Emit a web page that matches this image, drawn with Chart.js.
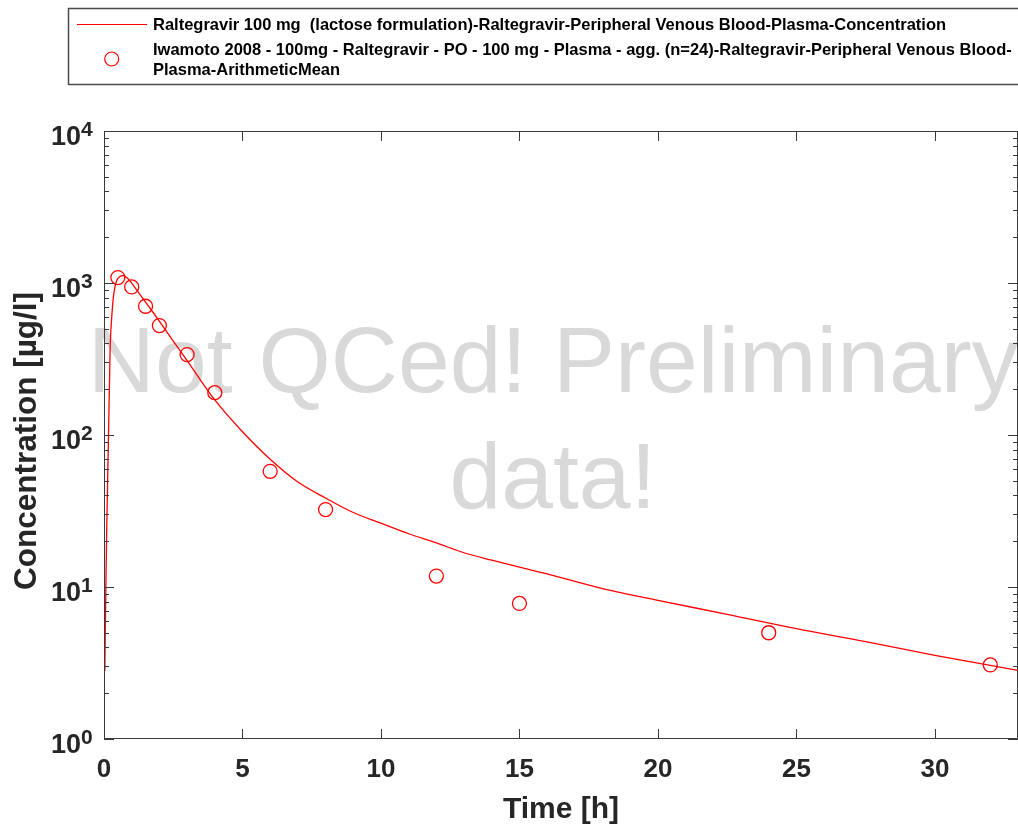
<!DOCTYPE html>
<html>
<head>
<meta charset="utf-8">
<script src="https://cdn.jsdelivr.net/npm/chart.js@4"></script>
<style>
html,body{margin:0;padding:0;background:#fff;}
#wrap{position:relative;width:1018px;height:830px;}
</style>
</head>
<body>
<div id="wrap"><canvas id="c"></canvas></div>
<script>
// ---- data ----
const simTime = [0.03,0.06,0.1,0.16,0.22,0.28,0.34,0.4,0.46,0.55,0.7,0.85,1.06,1.3,1.54,1.8,2.02,2.5,3,4,5,6,7,8,9,10,11,12,13,14,15,16,18,20,22.5,25,27.5,30,33];
const simConc = [2.8,8,25,92,360,600,810,950,1040,1095,1120,1075,966,840,732,630,553,415,309,170,105,69.2,49.0,38.5,30.9,26.3,22.4,19.5,16.8,15.0,13.5,12.2,9.77,8.17,6.61,5.32,4.37,3.55,2.83];
const obsTime = [0.5,1,1.5,2,3,4,6,8,12,15,24,32];
const obsConc = [1085,942,703,525,338,190,57.7,32.3,11.8,7.8,5.0,3.07];
const xTicks = [0,5,10,15,20,25,30];
const yDecades = [1,10,100,1000,10000];
const simLabel = 'Raltegravir 100 mg  (lactose formulation)-Raltegravir-Peripheral Venous Blood-Plasma-Concentration';
const obsLabel1 = 'Iwamoto 2008 - 100mg - Raltegravir - PO - 100 mg - Plasma - agg. (n=24)-Raltegravir-Peripheral Venous Blood-';
const obsLabel2 = 'Plasma-ArithmeticMean';
const xTitle = 'Time [h]';
const yTitle = 'Concentration [µg/l]';
const watermark = ['Not QCed! Preliminary','data!'];

const FONT = '"Liberation Sans", Arial, sans-serif';
const AX = '#262626';

const deco = {
  id:'deco',
  beforeDatasetsDraw(chart){
    const ctx = chart.ctx, a = chart.chartArea;
    const cx = (a.left+a.right)/2;
    ctx.save();
    ctx.fillStyle = '#d9d9d9';
    ctx.font = '93px ' + FONT;
    ctx.textAlign = 'center';
    ctx.textBaseline = 'alphabetic';
    ctx.fillText(watermark[0], cx-8, a.top+261);
    ctx.fillText(watermark[1], cx-8, a.top+377);
    ctx.restore();
  },
  afterDraw(chart){
    const ctx = chart.ctx, a = chart.chartArea;
    const xs = chart.scales.x, ys = chart.scales.y;
    ctx.save();
    // frame
    ctx.strokeStyle = '#3a3a3a';
    ctx.lineWidth = 1;
    ctx.beginPath();
    ctx.moveTo(a.left+0.5, a.top+0.5);
    ctx.lineTo(a.right-0.5, a.top+0.5);
    ctx.lineTo(a.right-0.5, a.bottom-0.5);
    ctx.lineTo(a.left+0.5, a.bottom-0.5);
    ctx.closePath();
    ctx.stroke();
    // y ticks
    ctx.beginPath();
    for (let i=0;i<yDecades.length;i++){
      const d = yDecades[i];
      const y = Math.round(ys.getPixelForValue(d))+0.5;
      ctx.moveTo(a.left, y); ctx.lineTo(a.left+10, y);
      ctx.moveTo(a.right, y); ctx.lineTo(a.right-10, y);
      if (i < yDecades.length-1){
        for (let m=2;m<=9;m++){
          const ym = Math.round(ys.getPixelForValue(d*m))+0.5;
          ctx.moveTo(a.left, ym); ctx.lineTo(a.left+5, ym);
          ctx.moveTo(a.right, ym); ctx.lineTo(a.right-5, ym);
        }
      }
    }
    // x ticks
    xTicks.forEach(v=>{
      const x = Math.round(xs.getPixelForValue(v))+0.5;
      ctx.moveTo(x, a.bottom); ctx.lineTo(x, a.bottom-10);
      ctx.moveTo(x, a.top); ctx.lineTo(x, a.top+10);
    });
    ctx.stroke();

    // x tick labels
    ctx.fillStyle = AX;
    ctx.font = 'bold 26px ' + FONT;
    ctx.textAlign = 'center';
    ctx.textBaseline = 'alphabetic';
    xTicks.forEach(v=>{
      ctx.fillText(String(v), xs.getPixelForValue(v), a.bottom+38);
    });
    // y tick labels 10^n
    yDecades.forEach(d=>{
      const y = ys.getPixelForValue(d);
      const e = String(Math.round(Math.log10(d)));
      ctx.textAlign = 'right';
      ctx.font = 'bold 27px ' + FONT;
      ctx.fillText('10', 81, y+14);
      ctx.textAlign = 'left';
      ctx.font = 'bold 21px ' + FONT;
      ctx.fillText(e, 81, y+5);
    });
    // titles
    ctx.textAlign = 'center';
    ctx.font = 'bold 30px ' + FONT;
    ctx.fillText(xTitle, (a.left+a.right)/2, 818);
    ctx.save();
    ctx.translate(36, 441);
    ctx.rotate(-Math.PI/2);
    ctx.font = 'bold 31.5px ' + FONT;
    ctx.fillText(yTitle, 0, 0);
    ctx.restore();

    // legend
    ctx.strokeStyle = '#4a4a4a';
    ctx.lineWidth = 1.5;
    ctx.strokeRect(68.5, 8.5, 1000, 76);
    ctx.strokeStyle = '#ff0000';
    ctx.lineWidth = 1.2;
    ctx.beginPath();
    ctx.moveTo(77, 24.5); ctx.lineTo(147, 24.5);
    ctx.stroke();
    ctx.beginPath();
    ctx.arc(111.7, 59, 7, 0, Math.PI*2);
    ctx.stroke();
    ctx.fillStyle = '#000';
    ctx.font = 'bold 16.5px ' + FONT;
    ctx.textAlign = 'left';
    ctx.fillText(simLabel, 153, 30);
    ctx.fillText(obsLabel1, 153, 54.5);
    ctx.fillText(obsLabel2, 153, 74.5);
    ctx.restore();
  }
};

new Chart(document.getElementById('c'), {
  type: 'scatter',
  data: {
    datasets: [
      {
        label: simLabel,
        data: simTime.map((t,i)=>({x:t, y:simConc[i]})),
        showLine: true,
        borderColor: '#ff0000',
        borderWidth: 1.3,
        pointRadius: 0,
        cubicInterpolationMode: 'monotone',
        fill: false
      },
      {
        label: obsLabel1 + obsLabel2,
        data: obsTime.map((t,i)=>({x:t, y:obsConc[i]})),
        showLine: false,
        pointStyle: 'circle',
        pointRadius: 7,
        borderColor: '#ff0000',
        borderWidth: 1.3,
        backgroundColor: 'rgba(0,0,0,0)'
      }
    ]
  },
  options: {
    responsive: true,
    maintainAspectRatio: false,
    animation: false,
    devicePixelRatio: 1,
    layout: { autoPadding: false, padding: { top: 131, left: 0, right: 0, bottom: 0 } },
    plugins: { legend: { display: false }, tooltip: { enabled: false } },
    scales: {
      x: {
        type: 'linear', min: 0, max: 33,
        grid: { display: false }, border: { display: false },
        ticks: { display: false },
        afterFit(s){ s.height = 91; s.paddingLeft = 0; s.paddingRight = 0; }
      },
      y: {
        type: 'logarithmic', min: 1, max: 10000,
        grid: { display: false }, border: { display: false },
        ticks: { display: false },
        afterFit(s){ s.width = 104; s.paddingTop = 0; s.paddingBottom = 0; }
      }
    }
  },
  plugins: [deco]
});
</script>
</body>
</html>
